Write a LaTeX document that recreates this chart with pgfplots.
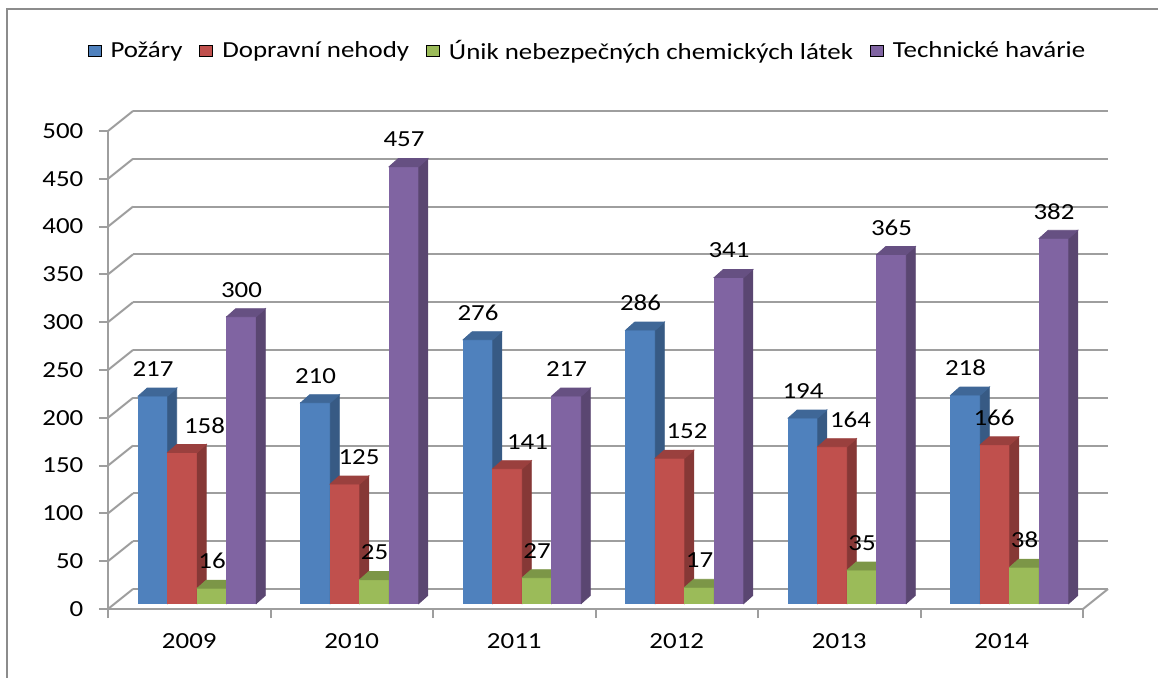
\documentclass[border=0pt]{standalone}
\usepackage{fontspec}
\setmainfont{Carlito}[FakeStretch=1.17]
\usepackage{pgfplots}
\usepackage{pgfplotstable}
\pgfplotsset{compat=1.18}

\definecolor{blueF}{HTML}{4F81BD}\definecolor{blueS}{HTML}{375A84}\definecolor{blueT}{HTML}{3F6797}
\definecolor{redF}{HTML}{C0504D}\definecolor{redS}{HTML}{863836}\definecolor{redT}{HTML}{9A403E}
\definecolor{greenF}{HTML}{9BBB59}\definecolor{greenS}{HTML}{6C833E}\definecolor{greenT}{HTML}{7C9647}
\definecolor{purpleF}{HTML}{8064A2}\definecolor{purpleS}{HTML}{5A4671}\definecolor{purpleT}{HTML}{665082}
\definecolor{gridc}{HTML}{9E9E9E}
\definecolor{framec}{HTML}{8C8C8C}

\newcommand\cf{\fontsize{11.5}{13.8}\selectfont}

% x = category centre, v = value, dx = label shift (pt), xo = bar offset (pt), c = series index
\pgfplotstableread{
x v dx xo c
0.5 217 0 -18.125 0
1.5 210 0 -18.125 0
2.5 276 0 -18.125 0
3.5 286 0 -18.125 0
4.5 194 0 -18.125 0
5.5 218 0 -18.125 0
}\tpoz
\pgfplotstableread{
x v dx xo c
0.5 158 11 -3.375 1
1.5 125 7 -3.375 1
2.5 141 10 -3.375 1
3.5 152 8.5 -3.375 1
4.5 164 9 -3.375 1
5.5 166 -0.5 -3.375 1
}\tdop
\pgfplotstableread{
x v dx xo c
0.5 16 0 11.375 2
1.5 25 0 11.375 2
2.5 27 0 11.375 2
3.5 17 0 11.375 2
4.5 35 0 11.375 2
5.5 38 0 11.375 2
}\tunik
\pgfplotstableread{
x v dx xo c
0.5 300 0 26.125 3
1.5 457 0 26.125 3
2.5 217 0 26.125 3
3.5 341 0 26.125 3
4.5 365 0 26.125 3
5.5 382 0 26.125 3
}\ttech

\pgfdeclareplotmark{bar3d}{%
  \pgfmathsetmacro\hh{\barv*0.478}%
  \pgfmathsetmacro\xl{\barxo-7.375}%
  \pgfmathsetmacro\xr{\barxo+7.375}%
  \pgfmathsetmacro\xs{\barxo+11.875}%
  \pgfmathsetmacro\xt{\barxo-2.875}%
  \pgfmathsetmacro\yb{2.75-\hh}%
  \pgfmathsetmacro\ysb{6.75-\hh}%
  \pgfmathtruncatemacro\ci{\barc}%
  \ifcase\ci\relax \def\barser{blue}\or \def\barser{red}\or \def\barser{green}\else \def\barser{purple}\fi
  \fill[\barser F] (\xl pt,2.75pt) rectangle (\xr pt,\yb pt);
  \fill[\barser S] (\xr pt,2.75pt) -- (\xs pt,6.75pt) -- (\xs pt,\ysb pt) -- (\xr pt,\yb pt) -- cycle;
  \fill[\barser T] (\xl pt,2.75pt) -- (\xr pt,2.75pt) -- (\xs pt,6.75pt) -- (\xt pt,6.75pt) -- cycle;
}

\pgfplotsset{
  bar3dplot/.style={
    scatter, only marks, mark=bar3d, forget plot,
    scatter/@pre marker code/.code={},
    scatter/@post marker code/.code={},
    visualization depends on={\thisrow{v} \as \barv},
    visualization depends on={\thisrow{dx} \as \labdx},
    visualization depends on={\thisrow{xo} \as \barxo},
    visualization depends on={\thisrow{c} \as \barc},
    point meta=explicit,
    nodes near coords,
    every node near coord/.append style={anchor=center, font=\cf, text=black,
      xshift={(\barxo+\labdx)*1pt}, yshift=16.25pt},
  },
}

\begin{document}
\begin{tikzpicture}
\begin{axis}[
  at={(0,0)}, anchor=south west,
  x=81.25pt, y=0.478pt,
  xmin=0, xmax=6, ymin=0, ymax=500,
  axis lines*=left,
  axis line style={gridc, line width=1pt},
  ytick={0,50,...,500},
  xtick={0,...,6}, xticklabels={},
  extra x ticks={0.5,1.5,...,5.5},
  extra x tick labels={2009,2010,2011,2012,2013,2014},
  extra x tick style={tick style={draw=none}},
  tick align=outside,
  major tick length=4.5pt,
  tick style={gridc, line width=1pt},
  ymajorgrids,
  major grid style={gridc, line width=1pt, xshift=12.5pt, yshift=10pt},
  clip=false,
  /pgf/number format/assume math mode=true,
  every tick label/.append style={font=\cf, text=black},
  yticklabel style={xshift=-4.3pt},
  xticklabel style={yshift=-4.3pt},
  legend columns=4,
  legend style={draw=none, fill=none, at={(0.4928,1.167)}, anchor=center, font=\cf,
    /tikz/every even column/.append style={column sep=6.5pt},
    /tikz/every odd column/.append style={column sep=2.5pt}},
  legend image code/.code={\fill[#1] (0pt,-2.5pt) rectangle (6.5pt,3pt);},
]
\pgfplotsinvokeforeach{0,50,...,500}{\draw[gridc, line width=1pt] (axis cs:0,#1) -- ++(12.5pt,10pt);}
\draw[gridc, line width=1pt] (axis cs:6,0) -- ++(12.5pt,10pt);

\addlegendimage{fill=blueF}\addlegendentry{Požáry}
\addlegendimage{fill=redF}\addlegendentry{Dopravní nehody}
\addlegendimage{fill=greenF}\addlegendentry{Únik nebezpečných chemických látek}
\addlegendimage{fill=purpleF}\addlegendentry{Technické havárie}

\addplot[bar3dplot] table[x=x, y=v, meta=v] {\tpoz};
\addplot[bar3dplot] table[x=x, y=v, meta=v] {\tdop};
\addplot[bar3dplot] table[x=x, y=v, meta=v] {\tunik};
\addplot[bar3dplot] table[x=x, y=v, meta=v] {\ttech};
\end{axis}
\draw[framec, line width=1.25pt] (-50.5pt,-40pt) -- (-50.5pt,300pt) -- (530pt,300pt);
\pgfresetboundingbox
\path[use as bounding box] (-54pt,-34pt) rectangle (525pt,304.5pt);
\end{tikzpicture}
\end{document}
